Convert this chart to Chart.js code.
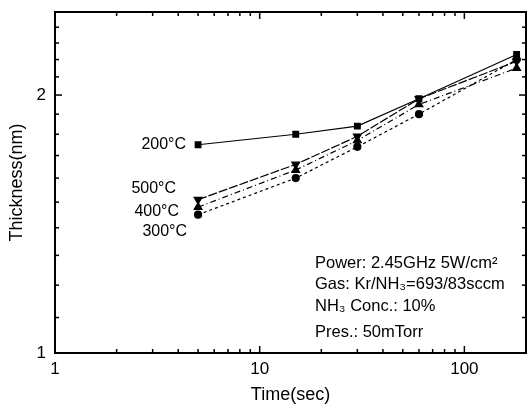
<!DOCTYPE html>
<html>
<head>
<meta charset="utf-8">
<script src="https://cdn.jsdelivr.net/npm/chart.js@4/dist/chart.umd.min.js"></script>
<style>
    body { margin: 0; background: #fff; }
    #wrap { width: 528px; height: 409px; }
</style>
</head>
<body>
<div id="wrap"><canvas id="myChart" width="528" height="409"></canvas></div>
<script>
/////////////////////////////////////////////////////////////
//data
/////////////////////////////////////////////////////////////
const times = [5, 15, 30, 60, 180]            // sec
const t200 = [1.75, 1.80, 1.84, 1.98, 2.23]   // nm
const t500 = [1.51, 1.66, 1.79, 1.98, 2.19]
const t400 = [1.48, 1.635, 1.77, 1.95, 2.15]
const t300 = [1.45, 1.60, 1.74, 1.90, 2.20]

const xTickLabels = [1, 10, 100]
const yTickLabels = [1, 2]
const xMinor = [2, 3, 4, 5, 6, 7, 8, 9, 20, 30, 40, 50, 60, 70, 80, 90, 200]
const yMinor = [1.1, 1.2, 1.3, 1.4, 1.5, 1.6, 1.7, 1.8, 1.9, 2.1, 2.2, 2.3, 2.4]

const seriesNames = ['200°C', '500°C', '400°C', '300°C']
const notes = ['Power: 2.45GHz 5W/cm²', 'Gas: Kr/NH₃=693/83sccm', 'NH₃ Conc.: 10%', 'Pres.: 50mTorr']

const font = "'Liberation Sans', Arial, sans-serif"

function pts(arr) {
    return times.map((t, i) => ({x: t, y: arr[i]}))
}

/////////////////////////////////////////////////////////////
//plugin: box, inward ticks, labels on the plot
/////////////////////////////////////////////////////////////
const framePlugin = {
    id: 'frame',
    afterDraw(chart) {
        const ctx = chart.ctx
        const a = chart.chartArea
        const xs = chart.scales.x
        const ys = chart.scales.y
        ctx.save()
        ctx.strokeStyle = '#000'
        ctx.lineWidth = 2
        ctx.strokeRect(a.left, a.top, a.right - a.left, a.bottom - a.top)

        ctx.lineWidth = 1.5
        const tick = (x1, y1, x2, y2) => {
            ctx.beginPath(); ctx.moveTo(x1, y1); ctx.lineTo(x2, y2); ctx.stroke()
        }
        xTickLabels.concat(xMinor).forEach(v => {
            const x = xs.getPixelForValue(v)
            const len = xTickLabels.includes(v) ? 7 : 4
            tick(x, a.bottom, x, a.bottom - len)
            tick(x, a.top, x, a.top + len)
        })
        yTickLabels.concat(yMinor).forEach(v => {
            const y = ys.getPixelForValue(v)
            const len = yTickLabels.includes(v) ? 7 : 4
            tick(a.left, y, a.left + len, y)
            tick(a.right, y, a.right - len, y)
        })

        //series names next to the first points
        ctx.fillStyle = '#000'
        ctx.font = '16px ' + font
        ctx.textAlign = 'right'
        ctx.textBaseline = 'middle'
        const x5 = xs.getPixelForValue(times[0])
        ctx.fillText(seriesNames[0], x5 - 12, ys.getPixelForValue(t200[0]))
        ctx.fillText(seriesNames[1], x5 - 22, ys.getPixelForValue(t500[0]) - 11)
        ctx.fillText(seriesNames[2], x5 - 19, ys.getPixelForValue(t300[0]) - 3)
        ctx.fillText(seriesNames[3], x5 - 11, ys.getPixelForValue(t300[0]) + 17)

        //conditions block
        ctx.textAlign = 'left'
        ctx.font = '16.5px ' + font
        const nx = a.left + 260
        const ny = [263, 284, 306, 332]
        notes.forEach((s, i) => ctx.fillText(s, nx, ny[i]))
        ctx.restore()
    }
}

/////////////////////////////////////////////////////////////
//Chart
/////////////////////////////////////////////////////////////
const common = {
    borderColor: '#000',
    backgroundColor: '#000',
    pointBorderColor: '#000',
    pointBackgroundColor: '#000',
    borderWidth: 1.2,
    fill: false,
    tension: 0,
}

const dataChart = {
    datasets: [
        {...common, label: seriesNames[0], data: pts(t200), pointStyle: 'rect', pointRadius: 4},
        {...common, label: seriesNames[1], data: pts(t500), pointStyle: 'triangle', pointRotation: 180,
            pointRadius: 4.5, borderDash: [9, 2]},
        {...common, label: seriesNames[2], data: pts(t400), pointStyle: 'triangle',
            pointRadius: 4.5, borderDash: [6, 3, 1, 3]},
        {...common, label: seriesNames[3], data: pts(t300), pointStyle: 'circle',
            pointRadius: 3.5, borderDash: [3, 3]},
    ]
}

const config = {
    type: 'line',
    data: dataChart,
    plugins: [framePlugin],
    options: {
        responsive: false,
        animation: false,
        layout: {autoPadding: false, padding: {top: 12, right: 2, left: 0, bottom: 0}},
        plugins: {
            legend: {display: false},
            tooltip: {enabled: false},
        },
        scales: {
            x: {
                type: 'logarithmic',
                min: 1,
                max: 200,
                grid: {display: false, drawTicks: false},
                border: {display: false},
                afterBuildTicks: s => { s.ticks = xTickLabels.map(v => ({value: v})) },
                afterFit: s => { s.height = 56; s.paddingLeft = 0; s.paddingRight = 0 },
                ticks: {
                    color: '#000',
                    padding: 6,
                    maxRotation: 0,
                    font: {family: font, size: 17},
                    callback: v => String(v),
                },
                title: {
                    display: true,
                    text: 'Time(sec)',
                    color: '#000',
                    font: {family: font, size: 18},
                    padding: {top: 0, bottom: 3},
                },
            },
            y: {
                type: 'logarithmic',
                min: 1,
                max: 2.5,
                grid: {display: false, drawTicks: false},
                border: {display: false},
                afterBuildTicks: s => { s.ticks = yTickLabels.map(v => ({value: v})) },
                afterFit: s => { s.width = 55; s.paddingTop = 0; s.paddingBottom = 0 },
                ticks: {
                    color: '#000',
                    padding: 9,
                    font: {family: font, size: 17},
                    callback: v => String(v),
                },
                title: {
                    display: true,
                    text: 'Thickness(nm)',
                    color: '#000',
                    font: {family: font, size: 18},
                    padding: {top: 6, bottom: 0},
                },
            },
        },
    },
}

const myChart = new Chart(document.getElementById('myChart'), config)
</script>
</body>
</html>
